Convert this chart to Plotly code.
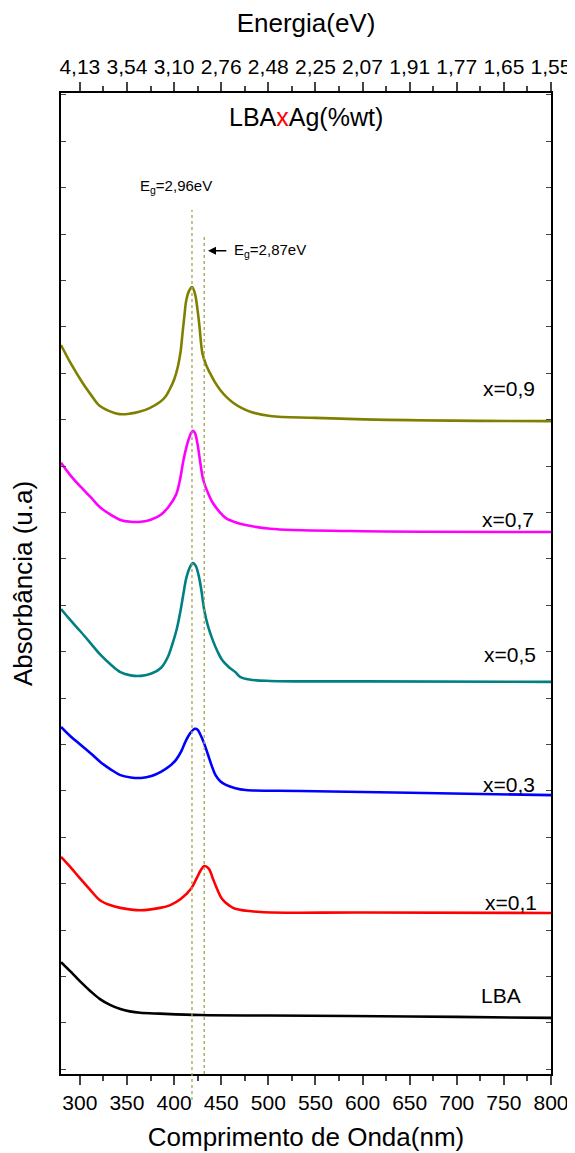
import plotly.graph_objects as go

# wavelength (nm) and absorbance (a.u., offset for display) for each sample
lba_x = [280, 290, 300, 311, 321, 332, 343, 353, 364, 385, 428, 500, 587, 700, 800]
lba_y = [2.41, 2.21, 2.00, 1.79, 1.62, 1.49, 1.40, 1.35, 1.32, 1.30, 1.27, 1.26, 1.25, 1.23, 1.21]

x01_x = [280, 290, 300, 311, 321, 332, 343, 364, 385, 396, 407, 418, 424, 428, 432, 437, 441, 446, 451, 458, 465, 492, 600, 800]
x01_y = [4.68, 4.46, 4.22, 3.97, 3.75, 3.64, 3.58, 3.53, 3.58, 3.64, 3.77, 3.99, 4.22, 4.38, 4.48, 4.42, 4.22, 3.97, 3.77, 3.64, 3.56, 3.49, 3.48, 3.47]

x03_x = [280, 290, 301, 312, 322, 333, 343, 354, 365, 376, 386, 395, 402, 408, 412, 417, 422, 425, 428, 432, 436, 440, 444, 449, 455, 465, 476, 534, 650, 800]
x03_y = [7.48, 7.28, 7.09, 6.90, 6.72, 6.56, 6.44, 6.39, 6.38, 6.42, 6.51, 6.63, 6.77, 6.97, 7.16, 7.34, 7.44, 7.42, 7.31, 7.12, 6.88, 6.64, 6.44, 6.31, 6.23, 6.16, 6.12, 6.10, 6.06, 6.01]

x05_x = [280, 290, 301, 312, 322, 333, 343, 354, 365, 376, 386, 393, 398, 403, 407, 410, 413, 417, 420, 423, 426, 429, 432, 436, 441, 446, 451, 458, 465, 470, 480, 502, 600, 800]
x05_y = [10.02, 9.78, 9.53, 9.27, 9.03, 8.82, 8.66, 8.59, 8.58, 8.63, 8.75, 8.97, 9.25, 9.60, 10.00, 10.36, 10.69, 10.93, 11.01, 10.95, 10.75, 10.42, 10.00, 9.65, 9.35, 9.11, 8.92, 8.77, 8.66, 8.56, 8.50, 8.47, 8.46, 8.45]

x07_x = [280, 290, 301, 312, 322, 333, 343, 354, 365, 376, 386, 394, 402, 406, 410, 414, 418, 420, 422, 425, 428, 431, 436, 441, 448, 455, 465, 476, 502, 587, 800]
x07_y = [13.17, 12.90, 12.65, 12.42, 12.20, 12.05, 11.94, 11.90, 11.90, 11.95, 12.05, 12.22, 12.48, 12.78, 13.23, 13.58, 13.81, 13.86, 13.82, 13.56, 13.15, 12.80, 12.52, 12.31, 12.12, 11.98, 11.89, 11.83, 11.75, 11.70, 11.68]

x09_x = [280, 291, 303, 312, 321, 332, 342, 353, 363, 374, 385, 391, 395, 400, 404, 407, 409, 411, 413, 416, 419, 422, 425, 427, 430, 434, 438, 443, 449, 456, 463, 472, 481, 502, 550, 650, 800]
x09_y = [15.71, 15.29, 14.89, 14.63, 14.40, 14.28, 14.22, 14.23, 14.27, 14.35, 14.48, 14.60, 14.74, 14.96, 15.24, 15.58, 15.97, 16.35, 16.68, 16.88, 16.96, 16.83, 16.45, 16.10, 15.54, 15.28, 15.11, 14.92, 14.74, 14.58, 14.46, 14.35, 14.27, 14.18, 14.14, 14.09, 14.07]

series_names = ["LBA", "x=0,1", "x=0,3", "x=0,5", "x=0,7", "x=0,9"]
series_colors = ["#000000", "#ff0000", "#0000ff", "#008080", "#ff00ff", "#808000"]
series_x = [lba_x, x01_x, x03_x, x05_x, x07_x, x09_x]
series_y = [lba_y, x01_y, x03_y, x05_y, x07_y, x09_y]
label_x = [770, 787, 785, 786, 784, 785]
label_y = [1.70, 3.69, 6.23, 9.03, 11.94, 14.78]

bottom_ticks = [300, 350, 400, 450, 500, 550, 600, 650, 700, 750, 800]
top_labels = ["4,13", "3,54", "3,10", "2,76", "2,48", "2,25", "2,07", "1,91", "1,77", "1,65", "1,55"]

eg_nm = [419, 432]
eg_top = [18.62, 18.04]
eg_bottom = [-0.56, 0.0]

X_RANGE = [280, 800]
Y_RANGE = [0, 21.14]

FONT = "Liberation Sans, Arial, sans-serif"

fig = go.Figure()
for xs, ys, name, col in zip(series_x, series_y, series_names, series_colors):
    fig.add_trace(go.Scatter(x=xs, y=ys, mode="lines", name=name,
                             line=dict(color=col, width=2.6, shape="spline", smoothing=1.0),
                             showlegend=False))
# invisible trace for top axis
fig.add_trace(go.Scatter(x=X_RANGE, y=[5, 5], xaxis="x2", mode="lines",
                         line=dict(width=0), showlegend=False, hoverinfo="skip"))

for name, lx, ly in zip(series_names, label_x, label_y):
    fig.add_annotation(x=lx, y=ly, text=name, showarrow=False,
                       xanchor="right", yanchor="middle", font=dict(size=21, color="black", family=FONT))

# Eg dotted lines (paper coords so they are not clipped by the plot frame)
def xp(v):
    return (v - X_RANGE[0]) / (X_RANGE[1] - X_RANGE[0])

def yp(v):
    return (v - Y_RANGE[0]) / (Y_RANGE[1] - Y_RANGE[0])

for nm, top, bot in zip(eg_nm, eg_top, eg_bottom):
    fig.add_shape(type="line", xref="paper", yref="paper", x0=xp(nm), x1=xp(nm), y0=yp(bot), y1=yp(top),
                  line=dict(color="#a3a350", width=1.3, dash="dot"))

fig.add_annotation(x=402, y=19.13, text="E<sub>g</sub>=2,96eV", showarrow=False,
                   xanchor="center", yanchor="middle", font=dict(size=15, color="black", family=FONT))
fig.add_annotation(x=436, y=17.74, ax=457, ay=17.74, axref="x", ayref="y",
                   text="", showarrow=True, arrowhead=2, arrowsize=1, arrowwidth=1.6, arrowcolor="black")
fig.add_annotation(x=461, y=17.74, text="E<sub>g</sub>=2,87eV", showarrow=False,
                   xanchor="left", yanchor="middle", font=dict(size=15, color="black", family=FONT))

fig.add_annotation(x=0.5, y=yp(20.63), xref="paper", yref="paper",
                   text="LBA<span style='color:red'>x</span>Ag(%wt)", showarrow=False,
                   xanchor="center", yanchor="middle", font=dict(size=25, color="black", family=FONT))

# the page body adds an 8 px offset, so the figure is sized to end at the window edge
fig.update_layout(
    width=567, height=1145,
    margin=dict(l=53, r=24, t=85, b=79, autoexpand=False),
    plot_bgcolor="white", paper_bgcolor="white",
    font=dict(family=FONT, color="black", size=21),
    xaxis=dict(range=X_RANGE, tickvals=bottom_ticks, ticks="outside", ticklen=9, tickwidth=1.5,
               showline=True, linecolor="black", linewidth=2, mirror=True, showgrid=False, zeroline=False,
               automargin=False,
               minor=dict(ticks="outside", ticklen=5, tickwidth=1.5, dtick=25, tick0=275, showgrid=False),
               tickfont=dict(size=21), title=dict(text="Comprimento de Onda(nm)", font=dict(size=26), standoff=15)),
    xaxis2=dict(range=X_RANGE, overlaying="x", side="top", tickvals=bottom_ticks, ticktext=top_labels,
                ticks="outside", ticklen=9, tickwidth=1.5, showline=True, linecolor="black", linewidth=2,
                showgrid=False, zeroline=False, automargin=False,
                minor=dict(ticks="outside", ticklen=5, tickwidth=1.5, dtick=25, tick0=275, showgrid=False),
                tickfont=dict(size=21), title=dict(text="Energia(eV)", font=dict(size=26), standoff=19)),
    yaxis=dict(range=Y_RANGE, dtick=1, tick0=0.1, ticks="inside", ticklen=5, tickwidth=1.2,
               showticklabels=False, showline=True, linecolor="black", linewidth=2, mirror="ticks",
               showgrid=False, zeroline=False, automargin=False,
               title=dict(text="Absorbância (u.a)", font=dict(size=26), standoff=20)),
)

fig.write_html("out.html")
